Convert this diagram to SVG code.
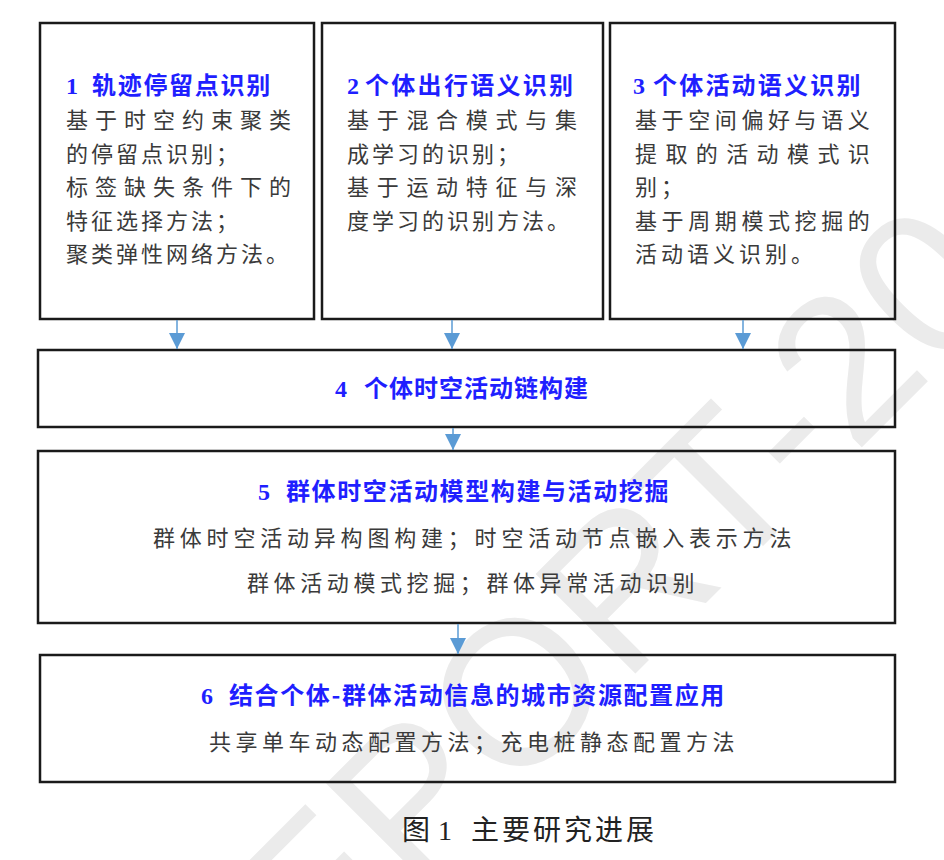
<svg xmlns="http://www.w3.org/2000/svg" width="944" height="860" viewBox="0 0 944 860">
<style>
.box{fill:none;stroke:#1a1a1a;stroke-width:2.5}
.ttl{font-family:"Noto Sans CJK SC",sans-serif;font-weight:700;fill:#1f1fff;font-size:24px}
.num{font-family:"Liberation Serif","Noto Sans CJK SC",serif;font-weight:700}
.body{font-family:"Noto Sans CJK SC",sans-serif;fill:#3a3a3a;font-size:22px}
.cap{font-family:"Noto Sans CJK SC",sans-serif;fill:#222;font-size:28px}
.wm{font-family:"Liberation Sans",sans-serif;fill:#ebebeb;font-size:205px}
.conn line{stroke:#5b9bd5;stroke-width:1.5}
</style>
<defs>
<marker id="ah" markerUnits="userSpaceOnUse" markerWidth="16" markerHeight="16" refX="16" refY="8" orient="auto">
<path d="M0,0 L16,8 L0,16 z" fill="#5b9bd5"/>
</marker>
</defs>
<rect width="944" height="860" fill="#fff"/>
<g id="watermark" transform="translate(567,742) rotate(-45)">
<text class="wm" x="-501" y="0">REPORT-20</text>
</g>

<g id="n1">
<rect class="box" x="40" y="23" width="274" height="296"/>
<text class="ttl" y="94"><tspan class="num" x="66">1</tspan><tspan x="92" letter-spacing="1.7">轨迹停留点识别</tspan></text>
<text class="body" x="66" y="128" letter-spacing="7">基于时空约束聚类</text>
<text class="body" x="66" y="161.5" letter-spacing="3">的停留点识别；</text>
<text class="body" x="66" y="195" letter-spacing="7">标签缺失条件下的</text>
<text class="body" x="66" y="228.5" letter-spacing="3">特征选择方法；</text>
<text class="body" x="66" y="262" letter-spacing="3">聚类弹性网络方法。</text>
</g>

<g id="n2">
<rect class="box" x="322" y="23" width="281" height="296"/>
<text class="ttl" y="94"><tspan class="num" x="347">2</tspan><tspan x="365" letter-spacing="2.3">个体出行语义识别</tspan></text>
<text class="body" x="347" y="128" letter-spacing="7.7">基于混合模式与集</text>
<text class="body" x="347" y="161.5" letter-spacing="3">成学习的识别；</text>
<text class="body" x="347" y="195" letter-spacing="7.7">基于运动特征与深</text>
<text class="body" x="347" y="228.5" letter-spacing="3">度学习的识别方法。</text>
</g>

<g id="n3">
<rect class="box" x="610" y="23" width="285" height="296"/>
<text class="ttl" y="94"><tspan class="num" x="633">3</tspan><tspan x="653" letter-spacing="2.2">个体活动语义识别</tspan></text>
<text class="body" x="635" y="128" letter-spacing="4.6">基于空间偏好与语义</text>
<text class="body" x="635" y="161.5" letter-spacing="8.4">提取的活动模式识</text>
<text class="body" x="635" y="195" letter-spacing="4">别；</text>
<text class="body" x="635" y="228.5" letter-spacing="4.6">基于周期模式挖掘的</text>
<text class="body" x="635" y="262" letter-spacing="4">活动语义识别。</text>
</g>

<g id="n4">
<rect class="box" x="38" y="350" width="857" height="77"/>
<text class="ttl" y="397" font-size="25"><tspan class="num" x="335">4</tspan><tspan x="364" letter-spacing="1">个体时空活动链构建</tspan></text>
</g>

<g id="n5">
<rect class="box" x="38" y="451" width="857" height="172"/>
<text class="ttl" y="500" font-size="25"><tspan class="num" x="258">5</tspan><tspan x="286" letter-spacing="1.6">群体时空活动模型构建与活动挖掘</tspan></text>
<text class="body" x="153" y="546" letter-spacing="4.8">群体时空活动异构图构建；时空活动节点嵌入表示方法</text>
<text class="body" x="247" y="591" letter-spacing="4.6">群体活动模式挖掘；群体异常活动识别</text>
</g>

<g id="n6">
<rect class="box" x="40" y="655" width="855" height="127"/>
<text class="ttl" y="704" font-size="25"><tspan class="num" x="201">6</tspan><tspan x="229" letter-spacing="1.6">结合个体-群体活动信息的城市资源配置应用</tspan></text>
<text class="body" x="209" y="750" letter-spacing="4.5">共享单车动态配置方法；充电桩静态配置方法</text>
</g>

<g id="caption">
<text class="cap" y="840"><tspan x="402">图</tspan><tspan x="438" font-family="Liberation Serif,serif">1</tspan><tspan x="471" letter-spacing="3">主要研究进展</tspan></text>
</g>

<g class="conn" id="connectors">
<line x1="177" y1="320" x2="177" y2="349" marker-end="url(#ah)"/>
<line x1="452" y1="320" x2="452" y2="349" marker-end="url(#ah)"/>
<line x1="743" y1="320" x2="743" y2="349" marker-end="url(#ah)"/>
<line x1="453" y1="428" x2="453" y2="450" marker-end="url(#ah)"/>
<line x1="458" y1="624" x2="458" y2="654" marker-end="url(#ah)"/>
</g>
</svg>
